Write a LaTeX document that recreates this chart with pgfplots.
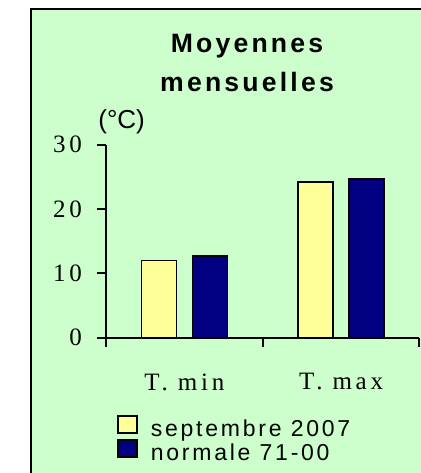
\documentclass[border=0pt]{standalone}
\usepackage{fontspec}
\usepackage{pgfplots}
\pgfplotsset{compat=1.18}
\setmainfont{Liberation Serif}
\newfontfamily\tickfont[LetterSpace=15]{Liberation Serif}
\newfontfamily\titlefont[LetterSpace=12]{Liberation Sans}
\newfontfamily\legfont[LetterSpace=12]{Liberation Sans}
\newfontfamily\unitfont{Liberation Sans}
\definecolor{bg}{HTML}{CCFFCC}
\definecolor{yel}{HTML}{FFFF99}
\definecolor{navyb}{HTML}{000080}
\begin{document}
\begin{tikzpicture}
\fill[white] (0,0) rectangle (210pt,-236.5pt);
\filldraw[fill=bg, draw=black, line width=1pt] (15.75pt,-4.25pt) rectangle (215pt,-245pt);
\node[anchor=base, inner sep=0pt, font=\titlefont\bfseries\fontsize{13.3}{16}\selectfont] at (123.5pt,-26.2pt) {Moyennes};
\node[anchor=base, inner sep=0pt, font=\titlefont\bfseries\fontsize{13.3}{16}\selectfont] at (123.5pt,-45.5pt) {mensuelles};
\node[anchor=base west, inner sep=0pt, font=\unitfont\fontsize{13}{15}\selectfont] at (49pt,-64pt) {(°C)};
\begin{axis}[
  at={(53pt,-168.75pt)}, anchor=south west,
  scale only axis, width=156.75pt, height=96.5pt,
  xmin=-0.5, xmax=1.5, ymin=0, ymax=30,
  axis x line=bottom, axis y line=left,
  axis line style={-, line width=1pt, black},
  tick align=outside, major tick length=4.5pt,
  tick style={line width=1pt, black},
  ytick={0,10,20,30}, yticklabels={0,10,20,30},
  yticklabel style={font=\tickfont\fontsize{12.5}{14}\selectfont, xshift=-4pt},
  xtick={-0.5,0.5,1.5}, xticklabels={,,},
  extra x ticks={0,1}, extra x tick labels={T. min, T. max},
  extra x tick style={major tick length=0pt,
    xticklabel style={font=\tickfont\fontsize{12.5}{14}\selectfont, yshift=-14.5pt}},
  ybar=8pt, bar width=17.5pt,
  legend style={at={(0.0351,-0.40)}, anchor=north west, draw=none, fill=none,
    inner sep=0pt, row sep=-2pt, font=\legfont\fontsize{11.5}{13}\selectfont,
    /tikz/every odd column/.append style={column sep=4.5pt}},
  legend cell align=left,
]
\addplot[fill=yel, draw=black, line width=0.75pt,
  legend image code/.code={\draw[fill=yel, draw=black, line width=0.75pt] (0pt,-1.75pt) rectangle (9.5pt,6.75pt);}]
  coordinates {(0,12.0) (1,24.2)};
\addplot[fill=navyb, draw=black, line width=0.75pt,
  legend image code/.code={\draw[fill=navyb, draw=black, line width=0.75pt] (0pt,-1.75pt) rectangle (9.5pt,6.75pt);}]
  coordinates {(0,12.7) (1,24.6)};
\legend{septembre 2007, normale 71-00}
\end{axis}
\pgfresetboundingbox
\path[use as bounding box] (0,0) rectangle (210pt,-236.5pt);
\end{tikzpicture}
\end{document}
